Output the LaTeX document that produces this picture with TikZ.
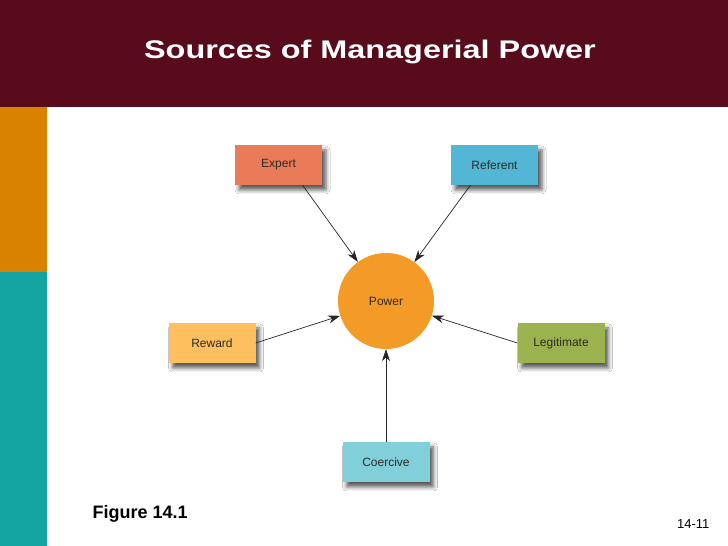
\documentclass[tikz,border=0pt]{standalone}
\usepackage{fontspec}
\setmainfont{Liberation Sans}
\usetikzlibrary{arrows.meta,shadows.blur}
\definecolor{maroon}{HTML}{580C1B}
\definecolor{stripor}{HTML}{D98100}
\definecolor{stripteal}{HTML}{12A4A0}
\definecolor{expertc}{HTML}{E97B58}
\definecolor{referentc}{HTML}{52B6D4}
\definecolor{powerc}{HTML}{F49A27}
\definecolor{rewardc}{HTML}{FDBF60}
\definecolor{legitc}{HTML}{9CB24F}
\definecolor{coercivec}{HTML}{80CFD9}
\definecolor{boxtext}{HTML}{2E2A22}

\begin{document}
\begin{tikzpicture}[x=1pt,y=1pt,
  srcbox/.style={minimum width=87pt,minimum height=40pt,inner sep=0pt,
    text=boxtext,font=\fontsize{12}{14}\selectfont,
    blur shadow={shadow xshift=4pt,shadow yshift=-5pt,shadow blur radius=4pt,
      shadow opacity=65}},
  hub/.style={circle,fill=powerc,minimum size=96pt,inner sep=0pt,
    text=boxtext,font=\fontsize{12}{14}\selectfont},
  feed/.style={-{Stealth[length=12pt,width=8pt]},black!85,line width=0.7pt}]
  \useasboundingbox (0,0) rectangle (728,546);
  \fill[white] (0,0) rectangle (728,546);
  % header and side strip
  \fill[maroon] (0,439) rectangle (728,546);
  \fill[stripor] (0,274) rectangle (47,439);
  \fill[stripteal] (0,0) rectangle (47,274);
  \node[text=white,font=\bfseries\fontsize{25.5}{30}\selectfont,xscale=1.27] (title) at (370,494) {Sources of Managerial Power};

  % sources
  \node[hub] (power) at (386,245) {Power};
  \node[srcbox,fill=expertc] (expert) at (278.5,381) {Expert};
  \node[srcbox,fill=referentc] (referent) at (494.5,381) {Referent};
  \node[srcbox,fill=rewardc] (reward) at (212,203) {Reward};
  \node[srcbox,fill=legitc] (legitimate) at (561,203) {Legitimate};
  \node[srcbox,fill=coercivec] (coercive) at (386,84) {Coercive};

  \draw[feed] (expert.-40) -- (power);
  \draw[feed] (referent.-140) -- (power);
  \draw[feed] (reward.east) -- (power);
  \draw[feed] (legitimate.west) -- (power);
  \draw[feed] (coercive.north) -- (power);

  \node[anchor=west,font=\bfseries\fontsize{18}{20}\selectfont] (fig) at (89,32) {Figure 14.1};
  \node[anchor=east,font=\fontsize{13}{15}\selectfont] (page) at (713,22) {14-11};
\end{tikzpicture}
\end{document}
